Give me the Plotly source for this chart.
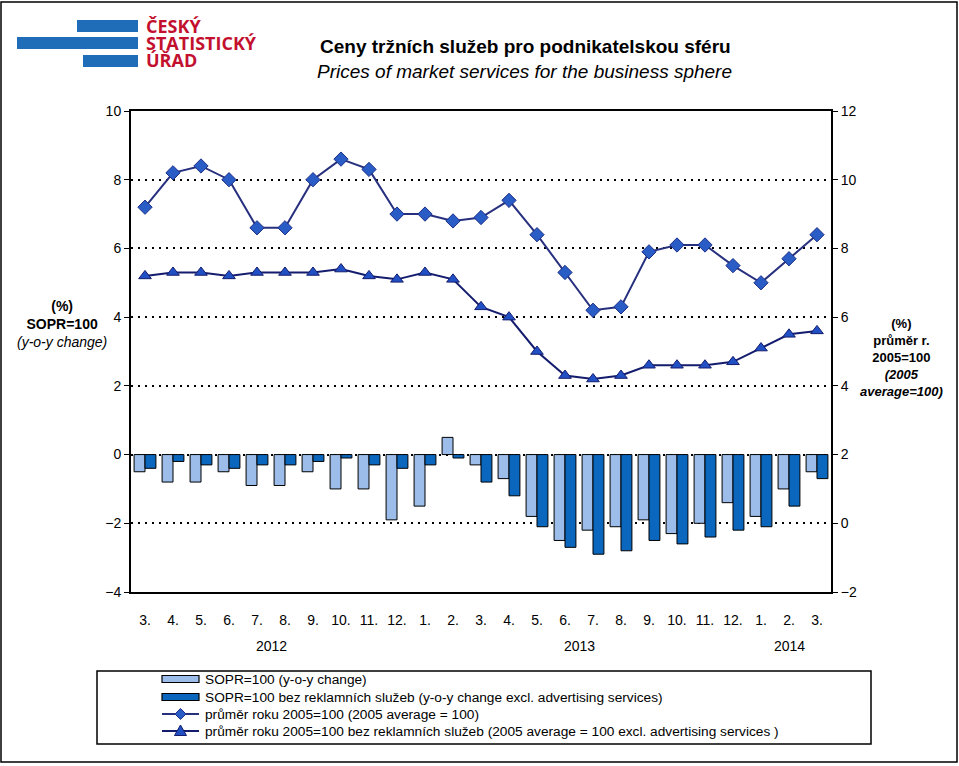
import plotly.graph_objects as go

# ---------------- data ----------------
months = ["3.", "4.", "5.", "6.", "7.", "8.", "9.", "10.", "11.", "12.",
          "1.", "2.", "3.", "4.", "5.", "6.", "7.", "8.", "9.", "10.", "11.", "12.",
          "1.", "2.", "3."]
years = ["2012", "2013", "2014"]
year_centers = [4.5, 15.5, 23]

sopr_yoy = [-0.5, -0.8, -0.8, -0.5, -0.9, -0.9, -0.5, -1.0, -1.0, -1.9, -1.5, 0.5,
            -0.3, -0.7, -1.8, -2.5, -2.2, -2.1, -1.9, -2.3, -2.0, -1.4, -1.8, -1.0, -0.5]
sopr_excl_yoy = [-0.4, -0.2, -0.3, -0.4, -0.3, -0.3, -0.2, -0.1, -0.3, -0.4, -0.3, -0.1,
                 -0.8, -1.2, -2.1, -2.7, -2.9, -2.8, -2.5, -2.6, -2.4, -2.2, -2.1, -1.5, -0.7]
avg2005 = [9.2, 10.2, 10.4, 10.0, 8.6, 8.6, 10.0, 10.6, 10.3, 9.0, 9.0, 8.8,
           8.9, 9.4, 8.4, 7.3, 6.2, 6.3, 7.9, 8.1, 8.1, 7.5, 7.0, 7.7, 8.4]
avg2005_excl = [7.2, 7.3, 7.3, 7.2, 7.3, 7.3, 7.3, 7.4, 7.2, 7.1, 7.3, 7.1,
                6.3, 6.0, 5.0, 4.3, 4.2, 4.3, 4.6, 4.6, 4.6, 4.7, 5.1, 5.5, 5.6]

names = ["SOPR=100 (y-o-y change)",
         "SOPR=100 bez reklamních služeb (y-o-y change excl. advertising services)",
         "průměr roku 2005=100 (2005 average = 100)",
         "průměr roku 2005=100 bez reklamních služeb (2005 average = 100 excl. advertising services )"]

# ---------------- styles ----------------
LIGHT = "#9cbde9"
DARK = "#0b66bd"
LINE1 = "#27307e"
LINE2 = "#141c6e"
MARK1 = "#2a5cc6"
MARK2 = "#2150c4"

W, H = 959, 766
L, R, T, B = 131, 831, 111, 592
FONT = "Arial, Liberation Sans, sans-serif"


def px(x):
    return (x - L) / (R - L)


def py(y):
    return (B - y) / (B - T)


x = list(range(len(months)))

fig = go.Figure()
fig.add_trace(go.Bar(x=x, y=sopr_yoy, name=names[0],
                     marker=dict(color=LIGHT, line=dict(color="black", width=1)), yaxis="y"))
fig.add_trace(go.Bar(x=x, y=sopr_excl_yoy, name=names[1],
                     marker=dict(color=DARK, line=dict(color="black", width=1)), yaxis="y"))
fig.add_trace(go.Scatter(x=x, y=avg2005, name=names[2], mode="lines+markers", yaxis="y2",
                         line=dict(color=LINE1, width=2),
                         marker=dict(symbol="diamond", size=11, color=MARK1, line=dict(color="#1d2f88", width=1))))
fig.add_trace(go.Scatter(x=x, y=avg2005_excl, name=names[3], mode="lines+markers", yaxis="y2",
                         line=dict(color=LINE2, width=2),
                         marker=dict(symbol="triangle-up", size=11, color=MARK2, line=dict(color=LINE2, width=1))))


def rect(x0, y0, x1, y1, **kw):
    return dict(type="rect", xref="paper", yref="paper", x0=px(x0), x1=px(x1), y0=py(y0), y1=py(y1), **kw)


def path(points, **kw):
    d = "M " + " L ".join(f"{px(a):.5f},{py(b):.5f}" for a, b in points) + " Z"
    return dict(type="path", xref="paper", yref="paper", path=d, **kw)


shapes = [
    rect(1, 2, 957, 762, line=dict(color="black", width=1.5), layer="below"),
    rect(97, 671, 871, 744, line=dict(color="black", width=1.5)),
    rect(77, 20, 138, 32, fillcolor="#1f6db8", line=dict(width=0)),
    rect(17, 37, 138, 49, fillcolor="#1f6db8", line=dict(width=0)),
    rect(83, 55, 138, 67, fillcolor="#1f6db8", line=dict(width=0)),
]

# ----- custom legend (symbols) -----
leg_rows = [679, 697, 714, 731]
sx0, sx1, scx = 162, 199, 180.5
shapes.append(rect(sx0, leg_rows[0] - 3.5, sx1, leg_rows[0] + 3.5, fillcolor=LIGHT, line=dict(color="black", width=1.2)))
shapes.append(rect(sx0, leg_rows[1] - 3.5, sx1, leg_rows[1] + 3.5, fillcolor=DARK, line=dict(color="black", width=1.2)))
shapes.append(dict(type="line", xref="paper", yref="paper", x0=px(sx0), x1=px(sx1), y0=py(leg_rows[2]), y1=py(leg_rows[2]),
                   line=dict(color=LINE1, width=2)))
shapes.append(path([(scx, leg_rows[2] - 5.5), (scx + 5.5, leg_rows[2]), (scx, leg_rows[2] + 5.5), (scx - 5.5, leg_rows[2])],
                   fillcolor=MARK1, line=dict(color="#1d2f88", width=1)))
shapes.append(dict(type="line", xref="paper", yref="paper", x0=px(sx0), x1=px(sx1), y0=py(leg_rows[3]), y1=py(leg_rows[3]),
                   line=dict(color=LINE2, width=2)))
shapes.append(path([(scx, leg_rows[3] - 6), (scx + 6, leg_rows[3] + 4.5), (scx - 6, leg_rows[3] + 4.5)],
                   fillcolor=MARK2, line=dict(color=LINE2, width=1)))

annotations = []
for nm, yy in zip(names, leg_rows):
    annotations.append(dict(text=nm, xref="paper", yref="paper", x=px(203), y=py(yy), xanchor="left", yanchor="middle",
                            showarrow=False, font=dict(family=FONT, size=13.7, color="black")))

for t, yy in [("ČESKÝ", 26), ("STATISTICKÝ", 43), ("ÚŘAD", 60)]:
    annotations.append(dict(text="<b>" + t + "</b>", xref="paper", yref="paper", x=px(144), y=py(yy),
                            xanchor="left", yanchor="middle", showarrow=False,
                            font=dict(family="Open Sans, sans-serif", size=18, color="#c3102f")))
annotations.append(dict(text="<b>Ceny tržních služeb pro podnikatelskou sféru</b>", xref="paper", yref="paper",
                        x=px(525), y=py(46), xanchor="center", yanchor="middle", showarrow=False,
                        font=dict(family=FONT, size=19, color="black")))
annotations.append(dict(text="<i>Prices of market services for the business sphere</i>", xref="paper", yref="paper",
                        x=px(524), y=py(72), xanchor="center", yanchor="middle", showarrow=False,
                        font=dict(family=FONT, size=19, color="black")))
annotations.append(dict(text="<b>(%)</b><br><b>SOPR=100</b><br><i>(y-o-y change)</i>", xref="paper", yref="paper",
                        x=px(62), y=py(324), xanchor="center", yanchor="middle", showarrow=False, align="center",
                        font=dict(family=FONT, size=14, color="black")))
annotations.append(dict(text="<b>(%)</b><br><b>průměr r.</b><br><b>2005=100</b><br><b><i>(2005</i></b><br><b><i>average=100)</i></b>",
                        xref="paper", yref="paper", x=px(901), y=py(357), xanchor="center", yanchor="middle",
                        showarrow=False, align="center", font=dict(family=FONT, size=13, color="black")))
for yr, xc in zip(years, year_centers):
    annotations.append(dict(text=yr, xref="x", yref="paper", x=xc, y=py(646), xanchor="center", yanchor="middle",
                            showarrow=False, font=dict(family=FONT, size=14, color="black")))

fig.update_layout(
    width=W, height=H,
    margin=dict(l=L, r=W - R, t=T, b=H - B, autoexpand=False),
    paper_bgcolor="white", plot_bgcolor="white",
    font=dict(family=FONT, size=14, color="black"),
    barmode="group", bargap=0.22, bargroupgap=0,
    showlegend=False,
    xaxis=dict(tickmode="array", tickvals=x, ticktext=months, range=[-0.5, len(months) - 0.5],
               showline=True, linecolor="black", linewidth=2, mirror=True, ticks="", showgrid=False,
               zeroline=False, tickfont=dict(size=14), ticklabelstandoff=14),
    yaxis=dict(range=[-4, 10], dtick=2, showline=True, linecolor="black", linewidth=2,
               ticks="outside", ticklen=5, tickcolor="black", tickwidth=1,
               showgrid=True, gridcolor="black", gridwidth=1.5, griddash="2px,5px",
               zeroline=False, tickfont=dict(size=14)),
    yaxis2=dict(range=[-2, 12], dtick=2, overlaying="y", side="right", showline=True, linecolor="black",
                linewidth=2, ticks="outside", ticklen=5, tickcolor="black", tickwidth=1,
                showgrid=False, zeroline=False, tickfont=dict(size=14)),
    shapes=shapes, annotations=annotations,
)

fig.write_html("out.html", config={"displayModeBar": False},
               post_script="document.body.style.margin='0';document.body.style.padding='0';")
